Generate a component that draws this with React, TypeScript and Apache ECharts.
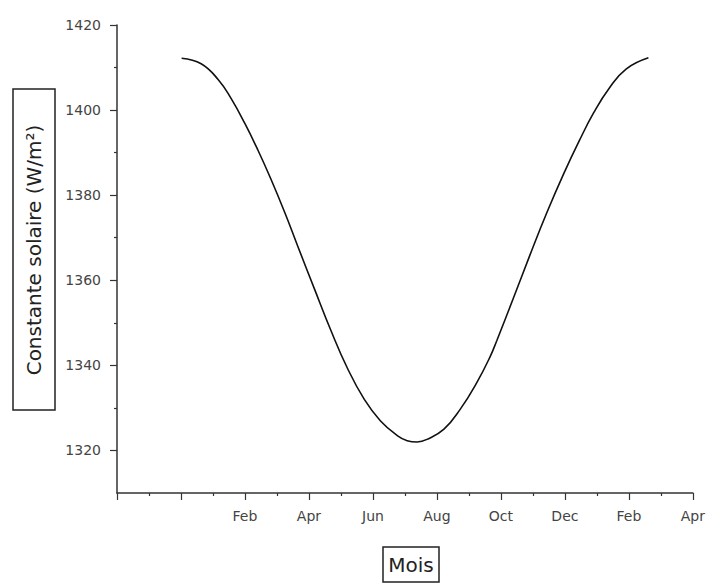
import React, { useEffect, useRef } from "react";
import * as echarts from "echarts";

// Month position (0 = start of Jan, 2 = Feb tick, ... 16 = Apr of next year)
const monthPos = [0.02, 0.63, 1.16, 1.56, 2.0, 2.41, 2.81, 3.25, 3.65, 4.18, 4.68, 5.21, 5.73, 6.23, 6.76, 7.07, 7.38, 7.69, 8.22, 8.72, 9.25, 9.66, 9.87, 10.4, 10.9, 11.43, 11.96, 12.45, 12.9, 13.39, 13.92, 14.61];
const solarConst = [1412.2, 1410.9, 1407.2, 1402.8, 1396.8, 1390.5, 1383.8, 1375.8, 1368.0, 1357.8, 1348.3, 1339.2, 1332.0, 1327.0, 1323.5, 1322.3, 1322.0, 1322.6, 1325.0, 1329.6, 1336.0, 1342.0, 1345.8, 1356.0, 1365.8, 1375.8, 1385.0, 1392.8, 1399.4, 1405.2, 1409.7, 1412.3];

const xTickLabels: Record<string, string> = {
  "-2": "",
  "0": "",
  "2": "Feb",
  "4": "Apr",
  "6": "Jun",
  "8": "Aug",
  "10": "Oct",
  "12": "Dec",
  "14": "Feb",
  "16": "Apr",
};
const yMajorTicks = [1320, 1340, 1360, 1380, 1400, 1420];
const yMinorTicks = [1330, 1350, 1370, 1390, 1410];

const yTitle = "Constante solaire (W/m²)";
const xTitle = "Mois";

const FONT = "DejaVu Sans, Arial, sans-serif";
const AXIS_COLOR = "#333";

export default function App() {
  const ref = useRef<HTMLDivElement>(null);
  useEffect(() => {
    if (!ref.current) return;
    const chart = echarts.init(ref.current, null, { renderer: "svg" });
    const data = monthPos.map((m, i) => [m, solarConst[i]]);
    chart.setOption({
      animation: false,
      backgroundColor: "#fff",
      grid: { left: 117, right: 11, top: 25, bottom: 92, containLabel: false },
      xAxis: {
        type: "value",
        min: -2,
        max: 16,
        interval: 2,
        axisLine: { show: true, onZero: false, lineStyle: { color: AXIS_COLOR, width: 1.5 } },
        axisTick: { show: true, inside: false, length: 7, lineStyle: { color: AXIS_COLOR, width: 1.2 } },
        minorTick: { show: true, splitNumber: 2, length: 3, lineStyle: { color: AXIS_COLOR, width: 1.2 } },
        axisLabel: {
          margin: 16,
          color: "#444",
          fontFamily: FONT,
          fontSize: 14,
          formatter: (v: number) => xTickLabels[String(v)] ?? "",
        },
        splitLine: { show: false },
        minorSplitLine: { show: false },
      },
      yAxis: [
        {
          type: "value",
          min: 1310,
          max: 1420,
          axisLine: { show: true, onZero: false, lineStyle: { color: AXIS_COLOR, width: 1.5 } },
          axisTick: { show: true, length: 7, customValues: yMajorTicks, lineStyle: { color: AXIS_COLOR, width: 1.2 } },
          axisLabel: {
            margin: 16,
            color: "#444",
            fontFamily: FONT,
            fontSize: 14,
            customValues: yMajorTicks,
            formatter: (v: number) => String(v),
          },
          splitLine: { show: false },
        },
        {
          type: "value",
          min: 1310,
          max: 1420,
          position: "left",
          axisLine: { show: false, onZero: false },
          axisTick: { show: true, length: 3, customValues: yMinorTicks, lineStyle: { color: AXIS_COLOR, width: 1.2 } },
          axisLabel: { show: false, customValues: yMinorTicks },
          splitLine: { show: false },
        },
      ],
      series: [
        {
          type: "line",
          data,
          smooth: 0.45,
          showSymbol: false,
          lineStyle: { color: "#111", width: 1.6 },
          yAxisIndex: 0,
        },
      ],
      graphic: [
        {
          type: "rect",
          shape: { x: 13, y: 89, width: 42, height: 321 },
          style: { fill: "#fff", stroke: "#222", lineWidth: 1.5 },
        },
        {
          type: "text",
          x: 34,
          y: 250,
          rotation: Math.PI / 2,
          style: {
            text: yTitle,
            fill: "#222",
            font: `20px ${FONT}`,
            align: "center",
            verticalAlign: "middle",
          },
        },
        {
          type: "rect",
          shape: { x: 383, y: 547, width: 56, height: 35 },
          style: { fill: "#fff", stroke: "#222", lineWidth: 1.5 },
        },
        {
          type: "text",
          x: 411,
          y: 565,
          style: {
            text: xTitle,
            fill: "#222",
            font: `20px ${FONT}`,
            align: "center",
            verticalAlign: "middle",
          },
        },
      ],
    });
    return () => chart.dispose();
  }, []);
  return (
    <div
      ref={ref}
      style={{ position: "fixed", left: 0, top: 0, width: 708, height: 585, background: "#fff" }}
    />
  );
}
